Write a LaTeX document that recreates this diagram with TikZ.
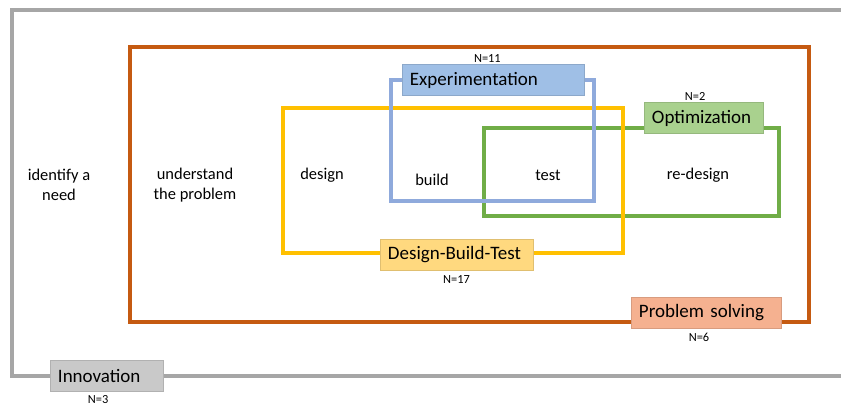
\documentclass[tikz,border=0pt]{standalone}
\usepackage{fontspec}
\setmainfont{Carlito}
\usetikzlibrary{positioning}

\definecolor{innogray}{HTML}{A6A6A6}
\definecolor{innofill}{HTML}{C9C9C9}
\definecolor{probline}{HTML}{C55A11}
\definecolor{probfill}{HTML}{F5B190}
\definecolor{dbtline}{HTML}{FFC000}
\definecolor{dbtfill}{HTML}{FFD97F}
\definecolor{expline}{HTML}{8FAADC}
\definecolor{expfill}{HTML}{9FBFE6}
\definecolor{optline}{HTML}{70AD47}
\definecolor{optfill}{HTML}{A9D18E}

\begin{document}
\begin{tikzpicture}[x=0.025cm, y=-0.025cm,
    frame/.style={draw=#1, line width=2.8pt},
    tag/.style 2 args={fill=#1, draw=#1!88!black, line width=0.3pt, inner xsep=0.2cm,
      inner ysep=0pt, text width=#2, align=left, minimum height=0.78cm,
      font=\fontsize{13.5}{16}\selectfont},
    count/.style={inner sep=1pt, font=\fontsize{8.8}{10}\selectfont},
    phase/.style={align=center, font=\fontsize{11.7}{14.2}\selectfont}]
  \useasboundingbox (0,0) rectangle (841,408);

  \draw[frame=innogray] (841,10) -| (12,376) -- (841,376);
  \draw[frame=probline] (130,47) rectangle (809,322);
  \draw[frame=optline] (484,128) rectangle (779,216);
  \draw[frame=dbtline] (283,108) rectangle (623,253);
  \draw[frame=expline] (391,80) rectangle (594,201);

  \node[tag={innofill}{2.425cm}] (inno) at (106.5,375.5) {Innovation};
  \node[tag={probfill}{3.35cm}] (prob) at (706,312.5) {Problem solving};
  \node[tag={dbtfill}{3.425cm}] (dbt) at (456.5,255) {Design-Build-Test};
  \node[tag={expfill}{4.15cm}] (expt) at (493,80) {Experimentation};
  \node[tag={optfill}{2.575cm}] (opt) at (703.5,118) {Optimization};

  \node[count, below=2pt of inno, xshift=-6] (ninno) {N=3};
  \node[count, below=2pt of prob, xshift=-5] (nprob) {N=6};
  \node[count, below=2pt of dbt] (ndbt) {N=17};
  \node[count, above=0pt of expt, xshift=-4] (nexpt) {N=11};
  \node[count, above=0pt of opt, xshift=-6] (nopt) {N=2};

  \node[phase] (need) at (59,185) {identify a\\need};
  \node[phase] (understand) at (195,185) {understand\\the problem};
  \node[phase] (design) at (322,175) {design};
  \node[phase] (build) at (432,180) {build};
  \node[phase] (test) at (548,175) {test};
  \node[phase] (redesign) at (698,175) {re-design};
\end{tikzpicture}
\end{document}
